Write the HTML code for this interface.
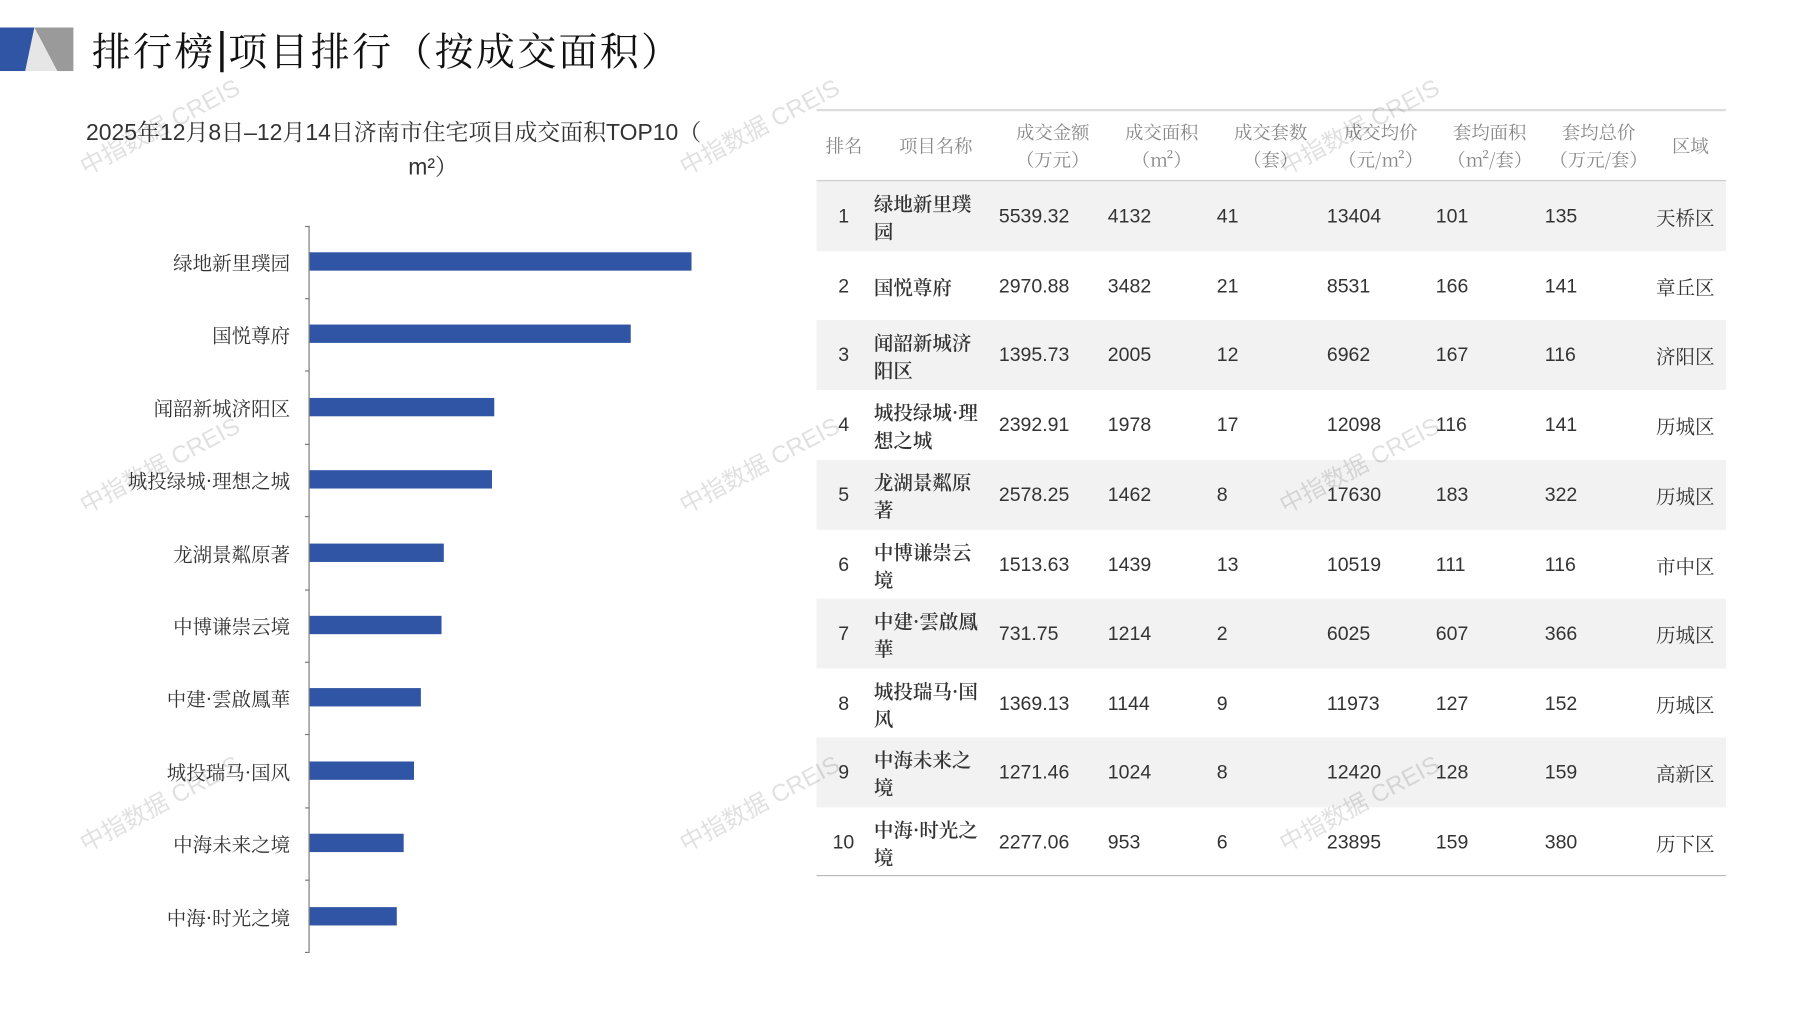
<!DOCTYPE html>
<html><head><meta charset="utf-8"><style>
html,body{margin:0;padding:0;width:1797px;height:1010px;overflow:hidden;background:#fff}
#w{position:absolute;left:0;top:0;width:1567px;height:881px;transform:scale(1.1468);transform-origin:0 0;font-family:"Liberation Sans","Noto Serif CJK SC",serif;color:#333}
.a{position:absolute;white-space:nowrap}
.lbl{position:absolute;right:1314px;font-family:"Noto Serif CJK SC",serif;font-size:17px;color:#333;transform:translateY(-50%)}
.bar{position:absolute;left:270px;height:16px;background:#2f55a4}
.tick{position:absolute;left:266px;width:4px;height:1px;background:#777}
.row{position:absolute;left:712px;width:793px;height:61px}
.c{position:absolute;top:50%;transform:translateY(-50%);font-size:17px;color:#333;font-family:"Liberation Sans","Noto Sans CJK SC",sans-serif}
.nm{font-family:"Noto Serif CJK SC",serif;line-height:24px;width:100px;white-space:normal;font-weight:600}
.h{position:absolute;top:50%;transform:translate(-50%,-50%);text-align:center;font-family:"Noto Serif CJK SC",serif;font-size:16px;color:#888;line-height:24px;white-space:nowrap}
.wm{position:absolute;font-size:21px;color:rgba(0,0,0,0.12);transform:rotate(-28deg);font-family:"Liberation Sans","Noto Sans CJK SC",sans-serif;white-space:nowrap}
</style></head><body><div id="w">
<svg class="a" style="left:0;top:24px" width="64" height="38"><rect x="0" y="0" width="64" height="38" fill="#c9c9c9"/><polygon points="0,0 30,0 22,38 0,38" fill="#2f55a4"/><polygon points="30,0 64,0 64,38 50,38" fill="#9a9a9a"/><polygon points="30,0 50,38 22,38" fill="#e6e6e6"/></svg>
<div class="a" style="left:80px;top:18px;font-size:34px;font-family:'Noto Serif CJK SC',serif;color:#111;letter-spacing:2px">排行榜<span style="display:inline-block;width:3px;height:36px;background:#111;vertical-align:-6px;margin:0 4px"></span>项目排行（按成交面积）</div>
<div class="a" style="left:75px;top:99px;font-size:20px;font-family:'Liberation Sans','Noto Serif CJK SC',serif;color:#333">2025年12月8日–12月14日济南市住宅项目成交面积TOP10（</div>
<div class="a" style="left:356px;top:129px;font-size:20px;color:#333">m²）</div>
<div class="a" style="left:269px;top:197px;width:1px;height:633px;background:#777"></div>
<div class="tick" style="top:197px"></div><div class="tick" style="top:260px"></div><div class="tick" style="top:323px"></div><div class="tick" style="top:387px"></div><div class="tick" style="top:450px"></div><div class="tick" style="top:514px"></div><div class="tick" style="top:577px"></div><div class="tick" style="top:640px"></div><div class="tick" style="top:704px"></div><div class="tick" style="top:767px"></div><div class="tick" style="top:830px"></div>
<div class="bar" style="top:220px;width:333px"></div><div class="lbl" style="top:228px">绿地新里璞园</div>
<div class="bar" style="top:283px;width:280px"></div><div class="lbl" style="top:291px">国悦尊府</div>
<div class="bar" style="top:347px;width:161px"></div><div class="lbl" style="top:355px">闻韶新城济阳区</div>
<div class="bar" style="top:410px;width:159px"></div><div class="lbl" style="top:418px">城投绿城·理想之城</div>
<div class="bar" style="top:474px;width:117px"></div><div class="lbl" style="top:482px">龙湖景粼原著</div>
<div class="bar" style="top:537px;width:115px"></div><div class="lbl" style="top:545px">中博谦崇云境</div>
<div class="bar" style="top:600px;width:97px"></div><div class="lbl" style="top:608px">中建·雲啟鳳華</div>
<div class="bar" style="top:664px;width:91px"></div><div class="lbl" style="top:672px">城投瑞马·国风</div>
<div class="bar" style="top:727px;width:82px"></div><div class="lbl" style="top:735px">中海未来之境</div>
<div class="bar" style="top:791px;width:76px"></div><div class="lbl" style="top:799px">中海·时光之境</div>

<div class="a" style="left:712px;top:95px;width:793px;height:2px;background:#ddd"></div>
<div class="row" style="top:97px;height:60px;border-bottom:2px solid #ccc">
<div class="h" style="left:24px">排名</div><div class="h" style="left:104px">项目名称</div>
<div class="h" style="left:206px">成交金额<br>（万元）</div><div class="h" style="left:301px">成交面积<br>（m²）</div>
<div class="h" style="left:396px">成交套数<br>（套）</div><div class="h" style="left:492px">成交均价<br>（元/m²）</div>
<div class="h" style="left:587px">套均面积<br>（m²/套）</div><div class="h" style="left:682px">套均总价<br>（万元/套）</div><div class="h" style="left:762px">区域</div></div>
<div class="a" style="left:712px;top:763px;width:793px;height:1px;background:#bbb"></div>
<div class="row" style="top:158px;background:#f2f2f2"><div class="c" style="left:19px">1</div><div class="c nm" style="left:50px">绿地新里璞园</div><div class="c" style="left:159px">5539.32</div><div class="c" style="left:254px">4132</div><div class="c" style="left:349px">41</div><div class="c" style="left:445px">13404</div><div class="c" style="left:540px">101</div><div class="c" style="left:635px">135</div><div class="c nm" style="left:732px;font-weight:400">天桥区</div></div>
<div class="row" style="top:219px"><div class="c" style="left:19px">2</div><div class="c nm" style="left:50px">国悦尊府</div><div class="c" style="left:159px">2970.88</div><div class="c" style="left:254px">3482</div><div class="c" style="left:349px">21</div><div class="c" style="left:445px">8531</div><div class="c" style="left:540px">166</div><div class="c" style="left:635px">141</div><div class="c nm" style="left:732px;font-weight:400">章丘区</div></div>
<div class="row" style="top:279px;background:#f2f2f2"><div class="c" style="left:19px">3</div><div class="c nm" style="left:50px">闻韶新城济阳区</div><div class="c" style="left:159px">1395.73</div><div class="c" style="left:254px">2005</div><div class="c" style="left:349px">12</div><div class="c" style="left:445px">6962</div><div class="c" style="left:540px">167</div><div class="c" style="left:635px">116</div><div class="c nm" style="left:732px;font-weight:400">济阳区</div></div>
<div class="row" style="top:340px"><div class="c" style="left:19px">4</div><div class="c nm" style="left:50px">城投绿城·理想之城</div><div class="c" style="left:159px">2392.91</div><div class="c" style="left:254px">1978</div><div class="c" style="left:349px">17</div><div class="c" style="left:445px">12098</div><div class="c" style="left:540px">116</div><div class="c" style="left:635px">141</div><div class="c nm" style="left:732px;font-weight:400">历城区</div></div>
<div class="row" style="top:401px;background:#f2f2f2"><div class="c" style="left:19px">5</div><div class="c nm" style="left:50px">龙湖景粼原著</div><div class="c" style="left:159px">2578.25</div><div class="c" style="left:254px">1462</div><div class="c" style="left:349px">8</div><div class="c" style="left:445px">17630</div><div class="c" style="left:540px">183</div><div class="c" style="left:635px">322</div><div class="c nm" style="left:732px;font-weight:400">历城区</div></div>
<div class="row" style="top:462px"><div class="c" style="left:19px">6</div><div class="c nm" style="left:50px">中博谦崇云境</div><div class="c" style="left:159px">1513.63</div><div class="c" style="left:254px">1439</div><div class="c" style="left:349px">13</div><div class="c" style="left:445px">10519</div><div class="c" style="left:540px">111</div><div class="c" style="left:635px">116</div><div class="c nm" style="left:732px;font-weight:400">市中区</div></div>
<div class="row" style="top:522px;background:#f2f2f2"><div class="c" style="left:19px">7</div><div class="c nm" style="left:50px">中建·雲啟鳳華</div><div class="c" style="left:159px">731.75</div><div class="c" style="left:254px">1214</div><div class="c" style="left:349px">2</div><div class="c" style="left:445px">6025</div><div class="c" style="left:540px">607</div><div class="c" style="left:635px">366</div><div class="c nm" style="left:732px;font-weight:400">历城区</div></div>
<div class="row" style="top:583px"><div class="c" style="left:19px">8</div><div class="c nm" style="left:50px">城投瑞马·国风</div><div class="c" style="left:159px">1369.13</div><div class="c" style="left:254px">1144</div><div class="c" style="left:349px">9</div><div class="c" style="left:445px">11973</div><div class="c" style="left:540px">127</div><div class="c" style="left:635px">152</div><div class="c nm" style="left:732px;font-weight:400">历城区</div></div>
<div class="row" style="top:643px;background:#f2f2f2"><div class="c" style="left:19px">9</div><div class="c nm" style="left:50px">中海未来之境</div><div class="c" style="left:159px">1271.46</div><div class="c" style="left:254px">1024</div><div class="c" style="left:349px">8</div><div class="c" style="left:445px">12420</div><div class="c" style="left:540px">128</div><div class="c" style="left:635px">159</div><div class="c nm" style="left:732px;font-weight:400">高新区</div></div>
<div class="row" style="top:704px"><div class="c" style="left:14px">10</div><div class="c nm" style="left:50px">中海·时光之境</div><div class="c" style="left:159px">2277.06</div><div class="c" style="left:254px">953</div><div class="c" style="left:349px">6</div><div class="c" style="left:445px">23895</div><div class="c" style="left:540px">159</div><div class="c" style="left:635px">380</div><div class="c nm" style="left:732px;font-weight:400">历下区</div></div>

<div class="wm" style="left:62px;top:95px">中指数据 CREIS</div><div class="wm" style="left:585px;top:95px">中指数据 CREIS</div><div class="wm" style="left:1108px;top:95px">中指数据 CREIS</div>
<div class="wm" style="left:62px;top:390px">中指数据 CREIS</div><div class="wm" style="left:585px;top:390px">中指数据 CREIS</div><div class="wm" style="left:1108px;top:390px">中指数据 CREIS</div>
<div class="wm" style="left:62px;top:685px">中指数据 CREIS</div><div class="wm" style="left:585px;top:685px">中指数据 CREIS</div><div class="wm" style="left:1108px;top:685px">中指数据 CREIS</div>
</div></body></html>
